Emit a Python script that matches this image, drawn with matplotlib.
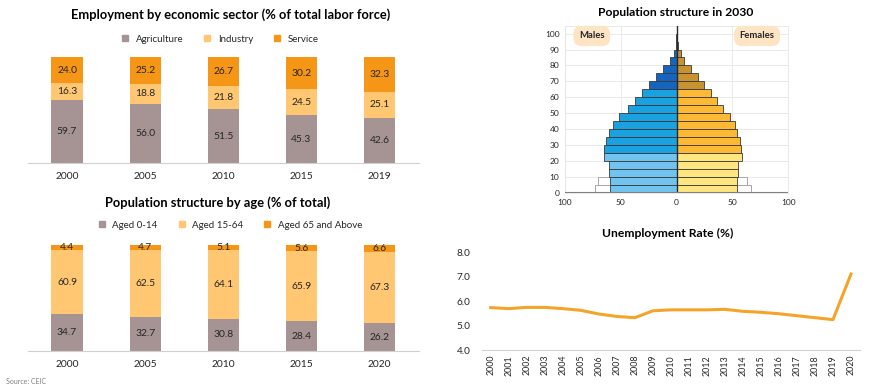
import matplotlib
matplotlib.use('Agg')
import matplotlib.pyplot as plt
import numpy as np

plt.rcParams['font.family'] = ['Lato', 'DejaVu Sans']

# employment by sector
emp_years = ['2000', '2005', '2010', '2015', '2019']
agriculture = [59.7, 56.0, 51.5, 45.3, 42.6]
industry = [16.3, 18.8, 21.8, 24.5, 25.1]
service = [24.0, 25.2, 26.7, 30.2, 32.3]

# population by age
age_years = ['2000', '2005', '2010', '2015', '2020']
aged_0_14 = [34.7, 32.7, 30.8, 28.4, 26.2]
aged_15_64 = [60.9, 62.5, 64.1, 65.9, 67.3]
aged_65 = [4.4, 4.7, 5.1, 5.6, 6.6]

# pyramid 2030 (age groups of 5 years, 0-4 ... 100+)
age_groups = ['0-4', '5-9', '10-14', '15-19', '20-24', '25-29', '30-34', '35-39',
              '40-44', '45-49', '50-54', '55-59', '60-64', '65-69', '70-74',
              '75-79', '80-84', '85-89', '90-94', '95-99', '100+']
males = [59.3, 60.0, 60.3, 61.0, 65.2, 65.5, 63.5, 61.0, 57.0, 51.8, 43.8,
         37.2, 30.6, 24.7, 18.1, 12.1, 5.6, 2.3, 0.8, 0.3, 0.1]
females = [54.4, 54.4, 54.8, 55.3, 58.3, 57.8, 56.3, 54.0, 51.9, 48.1, 41.8,
           36.0, 30.4, 24.7, 18.7, 12.8, 6.7, 3.5, 1.2, 0.4, 0.1]
ghost_groups = ['0-4', '5-9']
ghost_males = [73.5, 70.0]
ghost_females = [66.8, 63.2]

# unemployment
unemp_years = [str(y) for y in range(2000, 2021)]
unemp = [5.73, 5.69, 5.74, 5.74, 5.69, 5.62, 5.47, 5.37, 5.32, 5.60, 5.64,
         5.64, 5.64, 5.66, 5.58, 5.54, 5.48, 5.40, 5.32, 5.24, 7.10]

c_grey = '#A69494'
c_light = '#FFC772'
c_orange = '#F69616'
txt = '#262626'

fig = plt.figure(figsize=(8.7, 3.92), dpi=100)


def stacked(ax, cats, series, colors):
    x = np.arange(len(cats))
    bottom = np.zeros(len(cats))
    for vals, col in zip(series, colors):
        ax.bar(x, vals, 0.4, bottom=bottom, color=col)
        for xi, b, v in zip(x, bottom, vals):
            ax.text(xi, b + v / 2, f'{v:.1f}', ha='center', va='center',
                    fontsize=7.4, color=txt)
        bottom = bottom + np.array(vals)
    ax.set_xlim(-0.5, len(cats) - 0.5)
    ax.set_ylim(0, 100)
    ax.set_xticks(x)
    ax.set_xticklabels(cats, fontsize=7.4, color=txt)
    ax.tick_params(length=0, pad=6)
    ax.set_yticks([])
    for s in ['top', 'left', 'right']:
        ax.spines[s].set_visible(False)
    ax.spines['bottom'].set_color('#D0D0D0')


ax1 = fig.add_axes([0.0322, 0.5834, 0.449, 0.2704])
stacked(ax1, emp_years, [agriculture, industry, service], [c_grey, c_light, c_orange])
fig.text(231 / 870, 1 - 15 / 392, 'Employment by economic sector (% of total labor force)',
         ha='center', va='center', fontsize=9.3, fontweight='bold', color='black')
h1 = [plt.Line2D([], [], marker='s', ls='', color=c, markersize=4.5) for c in [c_grey, c_light, c_orange]]
fig.legend(h1, ['Agriculture', 'Industry', 'Service'], loc='center',
           bbox_to_anchor=(217 / 870, 1 - 39 / 392), ncol=3, frameon=False,
           fontsize=7, handletextpad=0.05, columnspacing=1.5, labelcolor=txt)

ax2 = fig.add_axes([0.0322, 0.1038, 0.449, 0.2712])
stacked(ax2, age_years, [aged_0_14, aged_15_64, aged_65], [c_grey, c_light, c_orange])
fig.text(218 / 870, 1 - 203 / 392, 'Population structure by age (% of total)',
         ha='center', va='center', fontsize=9.3, fontweight='bold', color='black')
fig.legend(h1, ['Aged 0-14', 'Aged 15-64', 'Aged 65 and Above'], loc='center',
           bbox_to_anchor=(227 / 870, 1 - 225 / 392), ncol=3, frameon=False,
           fontsize=7, handletextpad=0.05, columnspacing=1.5, labelcolor=txt)
fig.text(6 / 870, 1 - 382 / 392, 'Source: CEIC', ha='left', va='center',
         fontsize=5, color='#808080')

# pyramid
ax3 = fig.add_axes([0.6494, 0.5077, 0.2567, 0.427])
ypos = np.arange(len(age_groups)) * 5
m_cols = ['#72C4F0'] * 5 + ['#19A1E0'] * 8 + ['#1565C0'] * 8
f_cols = ['#FFE680'] * 5 + ['#FDB933'] * 8 + ['#C8922E'] * 8
gpos = np.arange(len(ghost_groups)) * 5
ax3.barh(gpos, [-v for v in ghost_males], 5, align='edge', color='white',
         edgecolor='#A8A8A8', linewidth=0.7, zorder=1)
ax3.barh(gpos, ghost_females, 5, align='edge', color='white',
         edgecolor='#A8A8A8', linewidth=0.7, zorder=1)
ax3.barh(ypos, [-v for v in males], 5, align='edge', color=m_cols,
         edgecolor='#3A3A3A', linewidth=0.6, zorder=2)
ax3.barh(ypos, females, 5, align='edge', color=f_cols,
         edgecolor='#3A3A3A', linewidth=0.6, zorder=2)
ax3.plot([0, 0], [0, 105], color='#2A2A2A', lw=1.0, zorder=3)
ax3.axhline(0, color='#7F7F7F', lw=1.5, zorder=4)
ax3.set_xlim(-100, 100)
ax3.set_ylim(0, 105)
ax3.set_yticks(np.arange(0, 101, 10))
ax3.set_xticks([-100, -50, 0, 50, 100])
ax3.set_xticklabels(['100', '50', '0', '50', '100'])
ax3.tick_params(length=0, labelsize=6, labelcolor=txt, pad=4)
ax3.grid(True, color='#E6E6E6', lw=0.6, zorder=0)
ax3.set_axisbelow(True)
for s in ['top', 'left', 'right', 'bottom']:
    ax3.spines[s].set_color('#E6E6E6')
    ax3.spines[s].set_linewidth(0.6)
box = dict(boxstyle='round,pad=0.6,rounding_size=0.9', fc='#FCE4C4', ec='none')
ax3.text(-76, 98.5, 'Males', ha='center', va='center', fontsize=6.8, fontweight='bold',
         color=txt, bbox=box, zorder=5)
ax3.text(72, 98.5, 'Females', ha='center', va='center', fontsize=6.8, fontweight='bold',
         color=txt, bbox=box, zorder=5)
fig.text(676 / 870, 1 - 13 / 392, 'Population structure in 2030', ha='center',
         va='center', fontsize=8.7, fontweight='bold', color='black')

# unemployment
ax4 = fig.add_axes([0.5537, 0.1071, 0.4348, 0.25])
ax4.plot(np.arange(len(unemp_years)), unemp, color='#F5A42A', lw=2.2)
ax4.set_xlim(-0.5, len(unemp_years) - 0.5)
ax4.set_ylim(4, 8)
ax4.set_yticks([4, 5, 6, 7, 8])
ax4.set_yticklabels(['4.0', '5.0', '6.0', '7.0', '8.0'])
ax4.set_xticks(np.arange(len(unemp_years)))
ax4.set_xticklabels(unemp_years, rotation=90)
ax4.tick_params(length=0, labelsize=6.4, labelcolor=txt)
ax4.tick_params(axis='y', labelsize=7.2, pad=8)
for s in ['top', 'left', 'right']:
    ax4.spines[s].set_visible(False)
ax4.spines['bottom'].set_color('#D0D0D0')
fig.text(668 / 870, 1 - 233 / 392, 'Unemployment Rate (%)', ha='center',
         va='center', fontsize=8.7, fontweight='bold', color='black')

fig.savefig('out.png', dpi=100)
